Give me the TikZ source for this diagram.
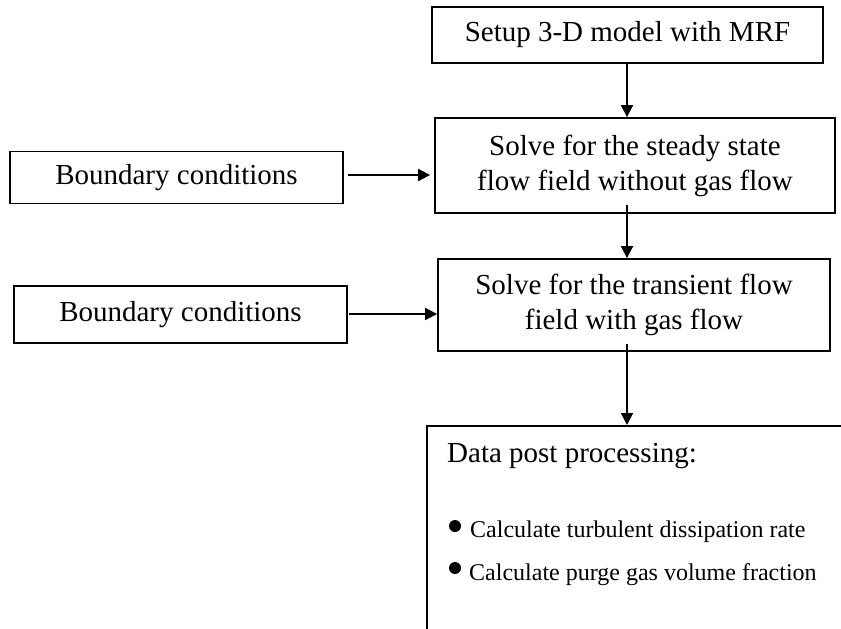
\documentclass[tikz,border=0pt]{standalone}
\usepackage{fontspec}
\setmainfont{Liberation Serif}
\usetikzlibrary{arrows.meta}
\begin{document}
\begin{tikzpicture}[x=1pt,y=-1pt,
  box/.style={draw, line width=1.8pt, inner sep=0pt, align=center,
    font=\fontsize{29}{35}\selectfont},
  arr/.style={line width=1.8pt, -{Triangle[length=12pt,width=12pt]}},
  big/.style={inner sep=0pt, font=\fontsize{29}{35}\selectfont, anchor=base west},
  small/.style={inner sep=0pt, font=\fontsize{24}{29}\selectfont, anchor=base west}]
\useasboundingbox (0,0) rectangle (841,629);
\fill[white] (0,0) rectangle (841,629);

\node[box, minimum width=391pt, minimum height=56pt] (b1) at (627.5,35) {Setup 3-D model with MRF};
\node[box, minimum width=400pt, minimum height=95pt] (b2) at (635,165.5) {Solve for the steady state\\flow field without gas flow};
\node[box, minimum width=333pt, minimum height=52pt] (bc1) at (176.5,177.5) {Boundary conditions};
\node[box, minimum width=333pt, minimum height=57pt] (bc2) at (180.5,314.5) {Boundary conditions};
\node[box, minimum width=392pt, minimum height=92pt] (b3) at (634,305) {Solve for the transient flow\\field with gas flow};

\begin{scope}
\clip (0,0) rectangle (841,629);
\node[draw, line width=1.8pt, inner sep=0pt, anchor=north west, minimum width=480pt, minimum height=260pt] (b4) at (426,425) {};
\end{scope}

\node[big] (t0) at (447,462) {Data post processing:};
\node[small] (t1) at (470,537) {Calculate turbulent dissipation rate};
\node[small] (t2) at (469,580) {Calculate purge gas volume fraction};
\fill ([xshift=-15pt,yshift=11pt]t1.base west) circle (6pt);
\fill ([xshift=-14pt,yshift=12pt]t2.base west) circle (6pt);

\draw[arr] (b1.south -| 627,0) -- (b2.north -| 627,0);
\draw[arr] ([yshift=9pt]b2.south -| 627,0) -- (b3.north -| 627,0);
\draw[arr] ([yshift=8pt]b3.south -| 627,0) -- (b4.north -| 627,0);
\draw[arr, shorten <=4pt, shorten >=4pt] (bc1.east |- 0,175) -- (b2.west |- 0,175);
\draw[arr, shorten <=1pt] (bc2.east |- 0,314) -- (b3.west |- 0,314);
\end{tikzpicture}
\end{document}
